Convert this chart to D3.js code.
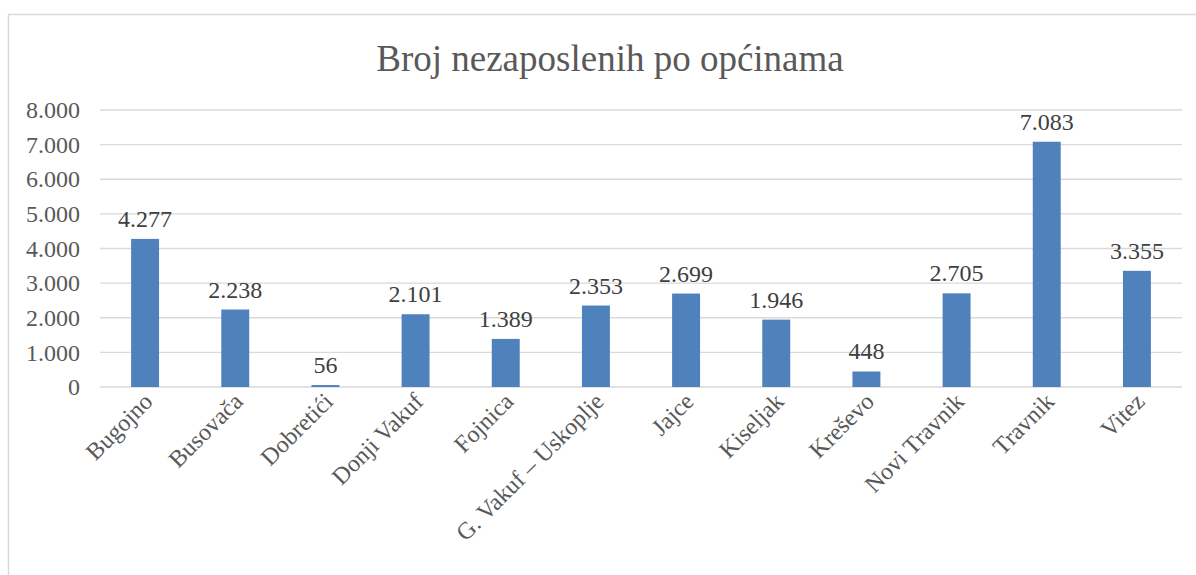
<!DOCTYPE html>
<html>
<head>
<meta charset="utf-8">
<script src="https://cdn.jsdelivr.net/npm/d3@7"></script>
<style>
  body { margin: 0; background: #fff; }
  text { font-family: "Liberation Serif", "Times New Roman", serif; }
</style>
</head>
<body>
<div id="chart"></div>
<script>
var svgWidth = 1196;
var svgHeight = 575;

// data
var municipalities = ["Bugojno", "Busovača", "Dobretići", "Donji Vakuf", "Fojnica",
  "G. Vakuf – Uskoplje", "Jajce", "Kiseljak", "Kreševo", "Novi Travnik", "Travnik", "Vitez"];
var unemployed = [4277, 2238, 56, 2101, 1389, 2353, 2699, 1946, 448, 2705, 7083, 3355];
var yTicks = [0, 1000, 2000, 3000, 4000, 5000, 6000, 7000, 8000];

var margin = { top: 110, right: 14, bottom: 188, left: 100 };
var width = svgWidth - margin.left - margin.right;
var height = svgHeight - margin.top - margin.bottom;

var fmt = d3.formatLocale({ decimal: ",", thousands: ".", grouping: [3], currency: ["", ""] }).format(",d");

var svg = d3.select("#chart")
  .append("svg")
  .attr("width", svgWidth)
  .attr("height", svgHeight);

// chart border
svg.append("path")
  .attr("d", "M8.5," + svgHeight + " V14.5 H" + svgWidth)
  .attr("fill", "none")
  .attr("stroke", "#d9d9d9")
  .attr("stroke-width", 1.5);

svg.append("text")
  .attr("x", 610)
  .attr("y", 71)
  .attr("text-anchor", "middle")
  .style("font-size", "37px")
  .style("fill", "#595959")
  .text("Broj nezaposlenih po općinama");

var chartGroup = svg.append("g")
  .attr("transform", `translate(${margin.left}, ${margin.top})`);

var xScale = d3.scaleBand()
  .domain(municipalities)
  .range([0, width])
  .paddingInner(0.69)
  .paddingOuter(0.345);

var yScale = d3.scaleLinear()
  .domain([0, 8000])
  .range([height, 0]);

// gridlines
chartGroup.append("g")
  .selectAll("line")
  .data(yTicks)
  .enter()
  .append("line")
  .attr("x1", 0)
  .attr("x2", width)
  .attr("y1", d => yScale(d))
  .attr("y2", d => yScale(d))
  .attr("stroke", "#d9d9d9")
  .attr("stroke-width", 1.3);

// y axis labels
var leftAxis = d3.axisLeft(yScale)
  .tickValues(yTicks)
  .tickFormat(fmt)
  .tickSize(0)
  .tickPadding(20);

var yAxis = chartGroup.append("g").call(leftAxis);
yAxis.select(".domain").remove();
yAxis.selectAll("text")
  .style("font-size", "24px")
  .style("fill", "#595959")
  .style("font-family", "Liberation Serif, serif");

// bars
chartGroup.selectAll("rect.bar")
  .data(unemployed)
  .enter()
  .append("rect")
  .attr("class", "bar")
  .attr("x", (d, i) => xScale(municipalities[i]))
  .attr("y", d => yScale(d))
  .attr("width", xScale.bandwidth())
  .attr("height", d => height - yScale(d))
  .attr("fill", "#4f81bd");

// value labels
chartGroup.selectAll("text.value")
  .data(unemployed)
  .enter()
  .append("text")
  .attr("class", "value")
  .attr("x", (d, i) => xScale(municipalities[i]) + xScale.bandwidth() / 2)
  .attr("y", d => yScale(d) - 12)
  .attr("text-anchor", "middle")
  .style("font-size", "24px")
  .style("fill", "#404040")
  .text(d => fmt(d));

// category labels
chartGroup.append("g")
  .selectAll("text")
  .data(municipalities)
  .enter()
  .append("text")
  .attr("transform", d => `translate(${xScale(d) + xScale.bandwidth() / 2 + 9}, ${height + 16}) rotate(-45)`)
  .attr("text-anchor", "end")
  .style("font-size", "24px")
  .style("fill", "#595959")
  .text(d => d);
</script>
</body>
</html>
